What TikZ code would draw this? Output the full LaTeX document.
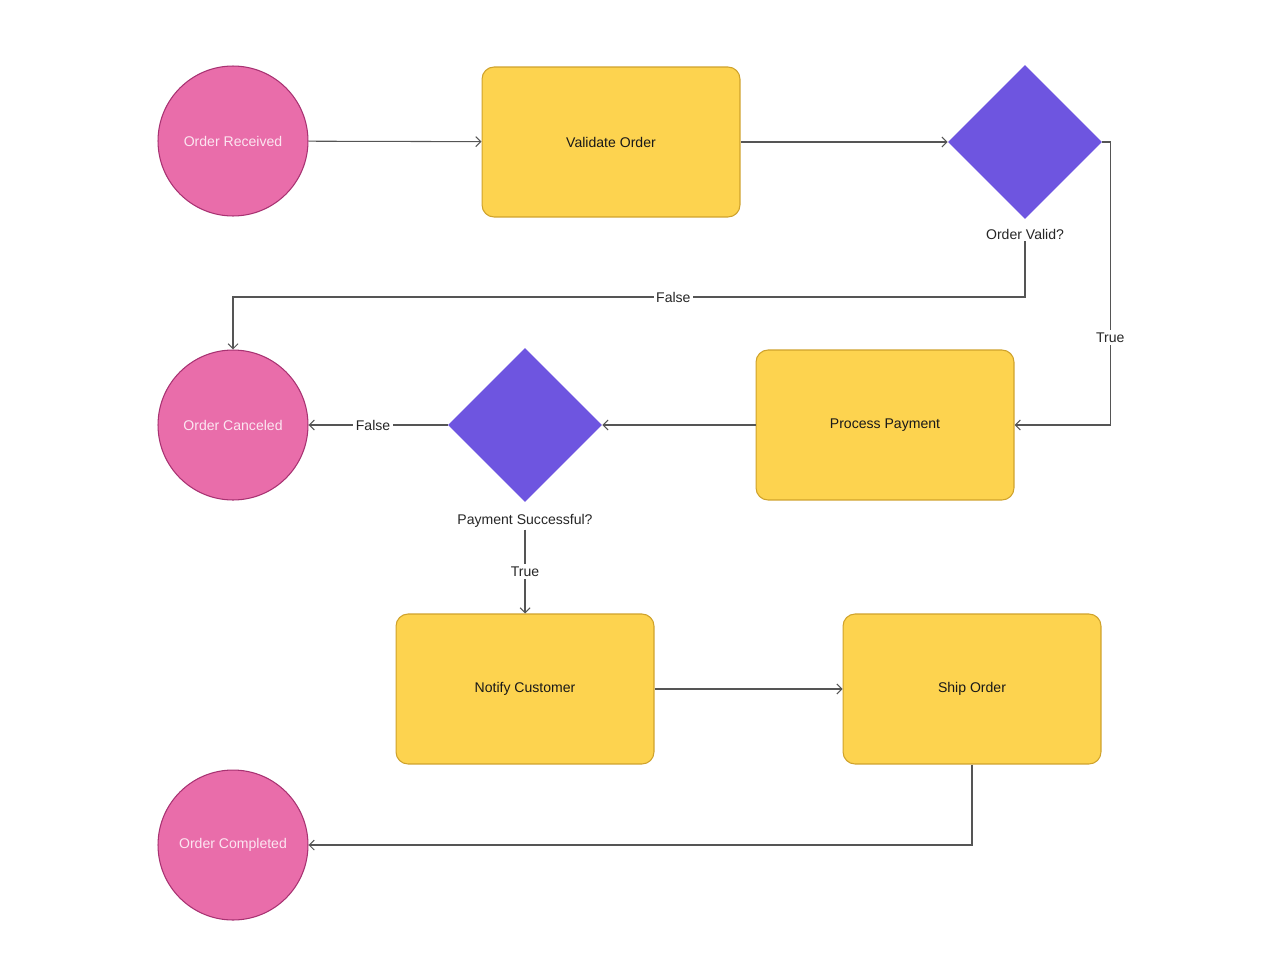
\documentclass[tikz,border=0pt]{standalone}
\usepackage{fontspec}
\setmainfont{Liberation Sans}
\usetikzlibrary{shapes.geometric,arrows.meta}
\definecolor{endpink}{HTML}{E96DAA}
\definecolor{endpinkline}{HTML}{A83272}
\definecolor{pinktext}{HTML}{FCE6F1}
\definecolor{stepyellow}{HTML}{FDD34F}
\definecolor{stepyellowline}{HTML}{CFA22B}
\definecolor{decpurple}{HTML}{6E55E0}
\definecolor{flowgray}{HTML}{555555}
\begin{document}
\begin{tikzpicture}[x=0.02cm,y=-0.02cm,
    smallfont/.style={font=\fontsize{8}{10}\selectfont},
    endpt/.style={circle,draw=endpinkline,fill=endpink,line width=0.6pt,minimum size=3cm,inner sep=0pt,text=pinktext,smallfont},
    stepbox/.style={rectangle,rounded corners=0.24cm,draw=stepyellowline,fill=stepyellow,line width=0.6pt,minimum width=5.16cm,minimum height=3cm,text=black!90,smallfont},
    decision/.style={diamond,aspect=1,fill=decpurple,minimum width=3.08cm,minimum height=3.08cm,inner sep=0pt},
    qtext/.style={smallfont,text=black!85,inner sep=1pt},
    lbl/.style={smallfont,text=black!85,fill=white,inner sep=1.5pt},
    flow/.style={draw=flowgray,line width=0.6pt,-{Straight Barb[length=1mm,width=2mm]}}]
    \useasboundingbox (0,0) rectangle (1280,960);
\node[endpt] (received) at (233,141) {Order Received};
\node[stepbox] (validate) at (611,142) {Validate Order};
\node[decision] (validq) at (1025,142) {};
\node[qtext] (validlbl) at (1025,234) {Order Valid?};
\node[endpt] (canceled) at (233,425) {Order Canceled};
\node[decision] (payq) at (525,425) {};
\node[qtext] (paylbl) at (525,521) {Payment Successful?};
\node[stepbox] (payment) at (885,425) {Process Payment};
\node[stepbox] (notify) at (525,689) {Notify Customer};
\node[stepbox] (ship) at (972,689) {Ship Order};
\node[endpt] (completed) at (233,845) {Order Completed};
\draw[flow] (received) -- (validate);
\draw[flow] (validate) -- (validq);
\draw[flow] (validq.east) -- ++(8,0) |- node[lbl,pos=0.345] {True} (payment.east);
\draw[flow] (validlbl.south) -- (validlbl.south |- 0,297) -| node[lbl,pos=0.222] {False} (canceled.north);
\draw[flow] (payment) -- (payq);
\draw[flow] (payq.west) -- node[lbl,pos=0.536] {False} (canceled.east);
\draw[flow] (paylbl.south) -- node[lbl] {True} (notify.north);
\draw[flow] (notify) -- (ship);
\draw[flow] (ship.south) |- (completed.east);
\end{tikzpicture}
\end{document}
